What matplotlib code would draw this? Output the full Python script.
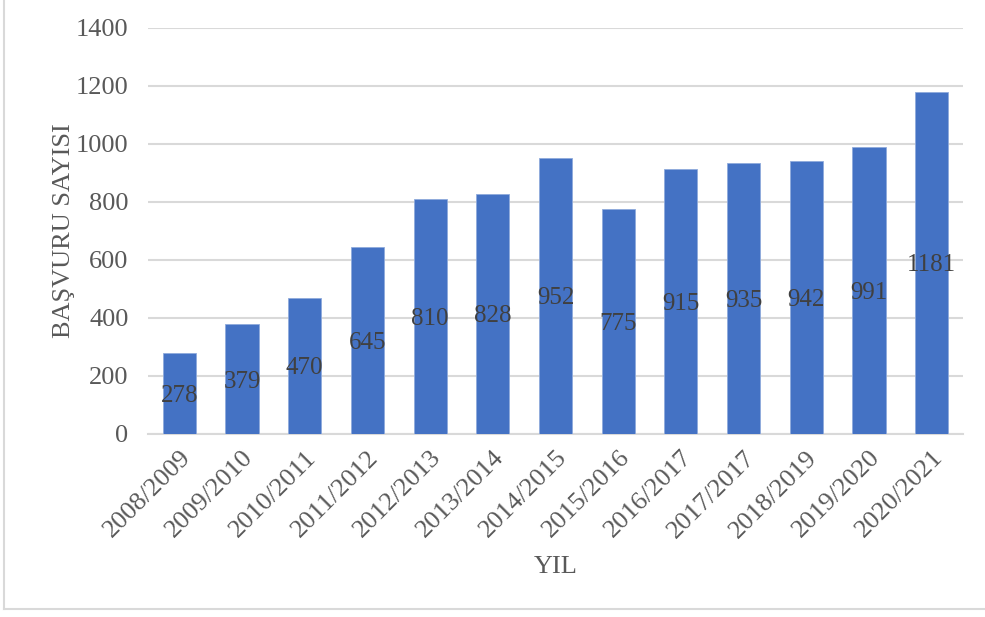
import matplotlib
matplotlib.use("Agg")
import matplotlib.pyplot as plt
from matplotlib.lines import Line2D

years = ["2008/2009", "2009/2010", "2010/2011", "2011/2012", "2012/2013",
         "2013/2014", "2014/2015", "2015/2016", "2016/2017", "2017/2017",
         "2018/2019", "2019/2020", "2020/2021"]
applications = [278, 379, 470, 645, 810, 828, 952, 775, 915, 935, 942, 991, 1181]
y_ticks = [0, 200, 400, 600, 800, 1000, 1200, 1400]

plt.rcParams["font.family"] = ["Liberation Serif", "DejaVu Serif"]

fig = plt.figure(figsize=(9.85, 6.17), dpi=100)
ax = fig.add_axes([148 / 985, 1 - 434 / 617, (963 - 148) / 985, (434 - 28) / 617])

x = list(range(len(years)))
bars = ax.bar(x, applications, width=0.53, color="#4472C4",
              edgecolor="#8FAADC", linewidth=0.6, zorder=3)

for xi, v in zip(x, applications):
    ax.text(xi, v / 2, str(v), ha="center", va="center_baseline",
            fontsize=18, color="#404040", zorder=4)

ax.set_xlim(-0.5, len(years) - 0.5)
ax.set_ylim(0, 1400)
ax.set_yticks(y_ticks)
ax.set_xticks(x)
ax.set_xticklabels(years, rotation=45, ha="right", rotation_mode="anchor")
ax.tick_params(axis="both", length=0, labelsize=19, labelcolor="#595959")
ax.tick_params(axis="y", pad=14)
ax.tick_params(axis="x", pad=9)

ax.grid(axis="y", color="#D9D9D9", linewidth=1.5, zorder=0)
for s in ["top", "right", "left"]:
    ax.spines[s].set_visible(False)
ax.spines["bottom"].set_color("#D9D9D9")
ax.spines["bottom"].set_linewidth(1.5)

ax.set_ylabel("BAŞVURU SAYISI", fontsize=19, color="#595959")
ax.set_xlabel("YIL", fontsize=19, color="#595959")
ax.xaxis.set_label_coords(0.5, -0.30)
ax.yaxis.set_label_coords(-0.089, 0.5)

# Light frame around the chart area
fig.add_artist(Line2D([4 / 985, 4 / 985], [1 - 609 / 617, 1.0],
                      color="#D9D9D9", linewidth=1.5))
fig.add_artist(Line2D([4 / 985, 1.0], [1 - 609 / 617, 1 - 609 / 617],
                      color="#D9D9D9", linewidth=1.5))

fig.savefig("out.png", dpi=100)
